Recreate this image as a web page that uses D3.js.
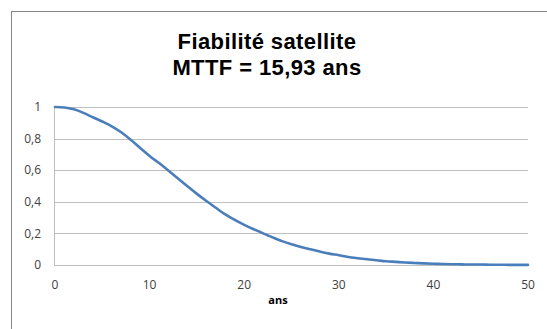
<!DOCTYPE html>
<html>
<head>
<meta charset="utf-8">
<script src="https://cdn.jsdelivr.net/npm/d3@7"></script>
<style>
  html, body { margin: 0; padding: 0; background: #fff; }
  svg { display: block; }
</style>
</head>
<body>
<svg id="chart" width="547" height="329"></svg>
<script>
const titleLines = ["Fiabilité satellite", "MTTF = 15,93 ans"];
const xAxisTitle = "ans";
const years = [0,1,2,3,4,5,6,7,8,9,10,11,12,13,14,15,16,17,18,19,20,21,22,23,24,25,26,27,28,29,30,31,32,33,34,35,36,37,38,39,40,41,42,43,44,45,46,47,48,49,50];
const reliability = [1.000,0.997,0.985,0.963,0.935,0.908,0.878,0.840,0.793,0.740,0.690,0.645,0.597,0.547,0.498,0.450,0.405,0.362,0.320,0.285,0.254,0.226,0.200,0.175,0.151,0.131,0.114,0.099,0.085,0.072,0.062,0.051,0.043,0.036,0.030,0.024,0.020,0.016,0.013,0.010,0.008,0.006,0.005,0.004,0.003,0.003,0.002,0.002,0.001,0.001,0.001];
const xTicks = [0,10,20,30,40,50];
const yTicks = [0,0.2,0.4,0.6,0.8,1];
const yTickLabels = ["0","0,2","0,4","0,6","0,8","1"];

const svg = d3.select("#chart");
svg.append("rect").attr("width",547).attr("height",329).attr("fill","#fff");
svg.append("rect").attr("x",11.5).attr("y",11.5).attr("width",600).attr("height",400)
  .attr("fill","none").attr("stroke","#868686").attr("stroke-width",1);

const x = d3.scaleLinear().domain([0,50]).range([55,528]);
const y = d3.scaleLinear().domain([0,1]).range([265,107]);

// gridlines
svg.append("g").selectAll("line").data(yTicks).join("line")
  .attr("x1",x(0)).attr("x2",x(50))
  .attr("y1",d=>Math.round(y(d))+0.5).attr("y2",d=>Math.round(y(d))+0.5)
  .attr("stroke","#bfbfbf").attr("stroke-width",1);
// y axis line
svg.append("line").attr("x1",x(0)-0.5).attr("x2",x(0)-0.5)
  .attr("y1",Math.round(y(1))).attr("y2",Math.round(y(0))+1)
  .attr("stroke","#bfbfbf").attr("stroke-width",1);

// y labels
svg.append("g").selectAll("text").data(yTicks).join("text")
  .attr("x",41).attr("y",d=>y(d)).attr("dy","0.35em")
  .attr("text-anchor","end")
  .attr("font-family","'Open Sans', sans-serif").attr("font-size",12).attr("fill","#404040")
  .text((d,i)=>yTickLabels[i]);
// x labels
svg.append("g").selectAll("text").data(xTicks).join("text")
  .attr("x",d=>x(d)).attr("y",289)
  .attr("text-anchor","middle")
  .attr("font-family","'Open Sans', sans-serif").attr("font-size",12).attr("fill","#404040")
  .text(d=>d);

// axis title
svg.append("text").attr("x",278).attr("y",304).attr("text-anchor","middle")
  .attr("font-family","'Open Sans', sans-serif").attr("font-size",11).attr("font-weight","bold")
  .attr("fill","#000").text(xAxisTitle);

// title
svg.append("g").selectAll("text").data(titleLines).join("text")
  .attr("x",267).attr("y",(d,i)=>49+i*25.5).attr("text-anchor","middle")
  .attr("font-family","'Liberation Sans', Arial, sans-serif").attr("font-size",22).attr("font-weight","bold")
  .attr("letter-spacing",0.4)
  .attr("fill","#000").text(d=>d);

// line
const line = d3.line().x((d,i)=>x(years[i])).y(d=>y(d)).curve(d3.curveMonotoneX);
svg.append("path").datum(reliability).attr("d",line)
  .attr("fill","none").attr("stroke","#4a7ebb").attr("stroke-width",2.6)
  .attr("stroke-linejoin","round").attr("stroke-linecap","round");
</script>
</body>
</html>
